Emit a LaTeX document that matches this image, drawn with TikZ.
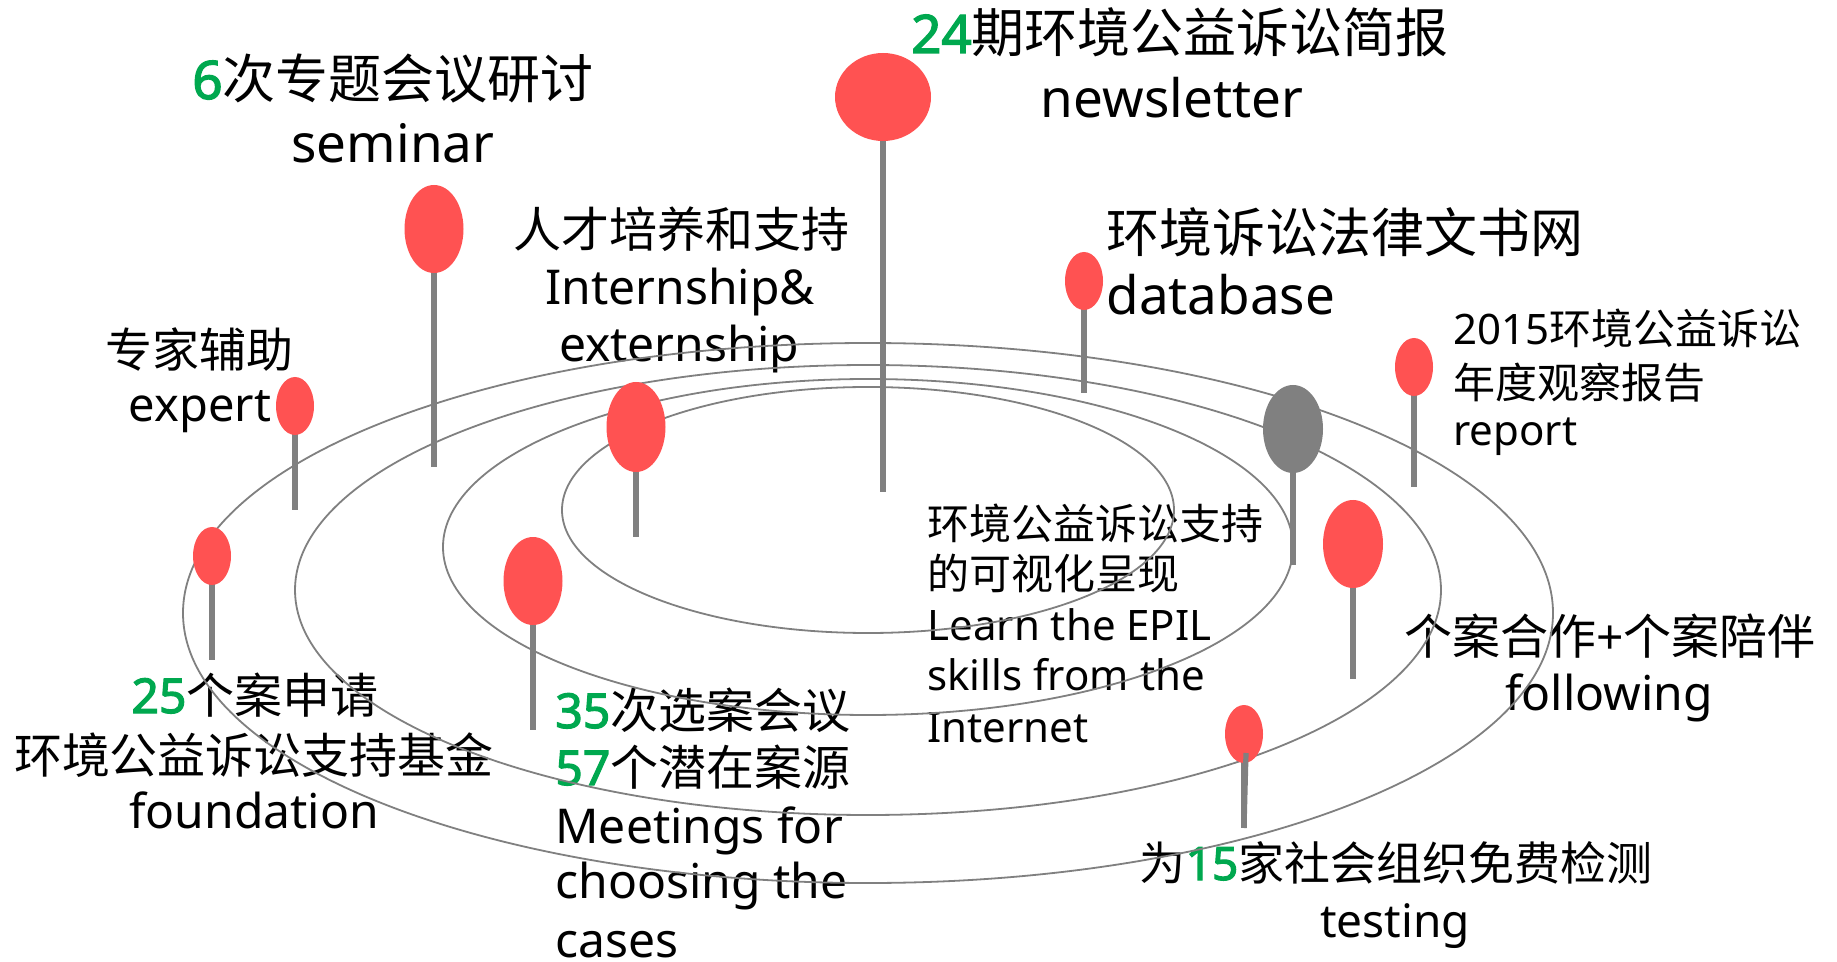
\documentclass[tikz,border=0pt]{standalone}
\usepackage{fontspec}
\setmainfont{Noto Sans}
\newfontfamily\cjk{Noto Sans CJK SC}
\newfontfamily\numbf{Noto Sans}[FakeBold=2.5]
\usetikzlibrary{shapes.geometric}
\definecolor{pinred}{HTML}{FF5252}
\definecolor{pingray}{HTML}{808080}
\definecolor{ringgray}{HTML}{808080}
\definecolor{numgreen}{HTML}{00A84F}
\newcommand{\gn}[1]{{\numbf\color{numgreen}#1}}
\begin{document}
\begin{tikzpicture}[x=0.5pt,y=-0.5pt,
  txt/.style={font=\fontsize{#1}{#1}\selectfont, inner sep=0pt, anchor=base, text=black},
  ltxt/.style={txt=#1, anchor=base west},
  ring/.style={ellipse, draw=ringgray, line width=0.9pt, inner sep=0pt},
  stem/.style={draw=pingray, line width=2.6pt},
  head/.style={ellipse, fill=pinred, draw=none, inner sep=0pt},
  ghead/.style={ellipse, fill=pingray, draw=none, inner sep=0pt}]
\fill[white] (0,0) rectangle (1837,962);
\useasboundingbox (0,0) rectangle (1837,962);

% ---- texts ----
\node[txt=26.5] (t1a) at (393,99) {\gn{6}{\cjk 次专题会议研讨}};
\node[txt=26.5] (t1b) at (393,163) {seminar};

\node[txt=26.5] (t2a) at (1180,53) {\gn{24}{\cjk 期环境公益诉讼简报}};
\node[txt=26.5] (t2b) at (1172,118) {newsletter};

\node[ltxt=26.5] (t3a) at (1106,253) {{\cjk 环境诉讼法律文书网}};
\node[ltxt=26.5] (t3b) at (1106,315) {database};

\node[txt=24] (t4a) at (681,248) {{\cjk 人才培养和支持}};
\node[txt=24] (t4b) at (680,305) {Internship\&};
\node[txt=24] (t4c) at (679,362) {externship};

\node[txt=23.5] (t5a) at (199,368) {{\cjk 专家辅助}};
\node[txt=23.5] (t5b) at (200,422) {expert};

\node[ltxt=21] (t6a) at (1453,345) {2015{\cjk 环境公益诉讼}};
\node[ltxt=21] (t6b) at (1453,399) {{\cjk 年度观察报告}};
\node[ltxt=21] (t6c) at (1453,446) {report};

\node[txt=24] (t7a) at (255,713) {\gn{25}{\cjk 个案申请}};
\node[txt=24] (t7b) at (254,773) {{\cjk 环境公益诉讼支持基金}};
\node[txt=24] (t7c) at (254,828) {foundation};

\node[ltxt=24] (t8a) at (555,728) {\gn{35}{\cjk 次选案会议}};
\node[ltxt=24] (t8b) at (555,785) {\gn{57}{\cjk 个潜在案源}};
\node[ltxt=24] (t8c) at (555,843) {Meetings for};
\node[ltxt=24] (t8d) at (555,898) {choosing the};
\node[ltxt=24] (t8e) at (555,957) {cases};

\node[ltxt=21] (t9a) at (927,539) {{\cjk 环境公益诉讼支持}};
\node[ltxt=21] (t9b) at (927,589) {{\cjk 的可视化呈现}};
\node[ltxt=21] (t9c) at (927,640) {Learn the EPIL};
\node[ltxt=21] (t9d) at (927,690) {skills from the};
\node[ltxt=21] (t9e) at (927,742) {Internet};

\node[txt=24] (t10a) at (1610,654) {{\cjk 个案合作}+{\cjk 个案陪伴}};
\node[txt=24] (t10b) at (1609,710) {following};

\node[txt=23] (t11a) at (1396,880) {{\cjk 为}\gn{15}{\cjk 家社会组织免费检测}};
\node[txt=23] (t11b) at (1395,937) {testing};

% ---- rings ----
\node[ring, minimum width=306pt, minimum height=123pt] (r1) at (868,510) {};
\node[ring, minimum width=425pt, minimum height=168pt] (r2) at (868,547) {};
\node[ring, minimum width=573pt, minimum height=225pt] (r3) at (868,590) {};
\node[ring, minimum width=685pt, minimum height=270pt] (r4) at (868,613) {};

% ---- pins ----
\coordinate (c1) at (434,229);  \coordinate (b1) at (434,467);
\coordinate (c2) at (295,406);  \coordinate (b2) at (295,510);
\coordinate (c3) at (636,427);  \coordinate (b3) at (636,537);
\coordinate (c4) at (883,97);   \coordinate (b4) at (883,492);
\coordinate (c5) at (1084,281); \coordinate (b5) at (1084,393);
\coordinate (c6) at (1414,367); \coordinate (b6) at (1414,487);
\coordinate (c7) at (1293,429); \coordinate (b7) at (1293,565);
\coordinate (c8) at (212,556);  \coordinate (b8) at (212,660);
\coordinate (c9) at (533,581);  \coordinate (b9) at (533,730);
\coordinate (c10) at (1353,544); \coordinate (b10) at (1353,679);
\coordinate (c11) at (1244,734); \coordinate (b11) at (1244,828);

\foreach \i in {1,...,11} {\draw[stem] (c\i) -- (b\i);}

\node[head, minimum width=29.5pt, minimum height=44pt] (p1) at (c1) {};
\node[head, minimum width=19pt, minimum height=29pt] (p2) at (c2) {};
\node[head, minimum width=29.5pt, minimum height=45pt] (p3) at (c3) {};
\node[head, minimum width=48pt, minimum height=44pt] (p4) at (c4) {};
\node[head, minimum width=19pt, minimum height=29pt] (p5) at (c5) {};
\node[head, minimum width=19pt, minimum height=29pt] (p6) at (c6) {};
\node[ghead, minimum width=30pt, minimum height=44pt] (p7) at (c7) {};
\node[head, minimum width=19pt, minimum height=29pt] (p8) at (c8) {};
\node[head, minimum width=29.5pt, minimum height=44pt] (p9) at (c9) {};
\node[head, minimum width=30pt, minimum height=44pt] (p10) at (c10) {};
\node[head, minimum width=19pt, minimum height=29pt] (p11) at (c11) {};
\draw[stem] (1246,753) -- (b11);
\end{tikzpicture}
\end{document}
